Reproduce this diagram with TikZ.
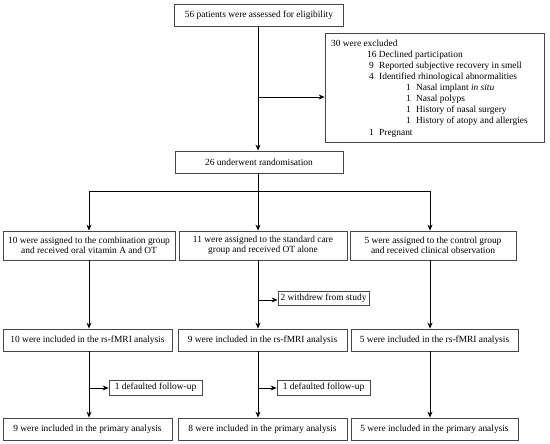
\documentclass[tikz,border=0pt]{standalone}
\usepackage{fontspec}
\setmainfont{Liberation Serif}
\usetikzlibrary{arrows.meta}
\begin{document}
\begin{tikzpicture}[x=1pt,y=-1pt,
  box/.style={draw=black!72, line width=0.8pt, inner sep=0pt, align=center,
    font=\fontsize{9.4}{9.6}\selectfont},
  txt/.style={inner sep=0pt, anchor=mid west, font=\fontsize{9.4}{9.6}\selectfont},
  arr/.style={line width=0.9pt, -{Stealth[length=6pt,width=5pt,inset=2pt]}},
  ln/.style={line width=0.9pt}]
\useasboundingbox (0,0) rectangle (550,444);
\newcommand{\nb}[1]{\makebox[10pt][l]{#1}}
% boxes
\node[box, minimum width=169pt, minimum height=22pt] (top) at (259,15) {56 patients were assessed for eligibility};
\node[box, minimum width=219pt, minimum height=109pt] (excl) at (434.5,87.5) {};
\node[txt] (e0) at (331,44.0) {30 were excluded};
\node[txt] (e1) at (367,55.1) {16 Declined participation};
\node[txt] (e2) at (369,66.2) {\nb{9}Reported subjective recovery in smell};
\node[txt] (e3) at (369,77.3) {\nb{4}Identified rhinological abnormalities};
\node[txt] (e4) at (406,88.4) {\nb{1}Nasal implant \textit{in situ}};
\node[txt] (e5) at (406,99.5) {\nb{1}Nasal polyps};
\node[txt] (e6) at (406,110.6) {\nb{1}History of nasal surgery};
\node[txt] (e7) at (406,121.7) {\nb{1}History of atopy and allergies};
\node[txt] (e8) at (369,132.8) {\nb{1}Pregnant};
\node[box, minimum width=168pt, minimum height=22pt] (rand) at (259,162) {26 underwent randomisation};
\node[box, minimum width=172pt, minimum height=29pt] (g1) at (89,245.5) {10 were assigned to the combination group\\and received oral vitamin A and OT};
\node[box, minimum width=168pt, minimum height=29pt] (g2) at (263,245.5) {11 were assigned to the standard care\\group and received OT alone};
\node[box, minimum width=166pt, minimum height=29pt] (g3) at (433,245.5) {5 were assigned to the control group\\and received clinical observation};
\node[box, minimum width=91pt, minimum height=14pt] (wd) at (323.5,298) {2 withdrew from study};
\node[box, minimum width=169pt, minimum height=22pt] (r1) at (87.5,340) {10 were included in the rs-fMRI analysis};
\node[box, minimum width=169pt, minimum height=22pt] (r2) at (262.5,340) {9 were included in the rs-fMRI analysis};
\node[box, minimum width=167pt, minimum height=22pt] (r3) at (434.5,340) {5 were included in the rs-fMRI analysis};
\node[box, minimum width=93pt, minimum height=15pt] (d1) at (155.5,387.5) {1 defaulted follow-up};
\node[box, minimum width=93pt, minimum height=15pt] (d2) at (323.5,387.5) {1 defaulted follow-up};
\node[box, minimum width=169pt, minimum height=22pt] (p1) at (87.5,429) {9 were included in the primary analysis};
\node[box, minimum width=169pt, minimum height=22pt] (p2) at (262.5,429) {8 were included in the primary analysis};
\node[box, minimum width=167pt, minimum height=22pt] (p3) at (434.5,429) {5 were included in the primary analysis};
% connectors
\coordinate (ex) at (258,97);
\coordinate (hub) at (258,191);
\coordinate (c1) at (89,191);
\coordinate (c3) at (430,191);
\coordinate (w) at (258,300);
\coordinate (f1) at (89,388);
\coordinate (f2) at (258,388);
\draw[arr] (top.south -| hub) -- (rand.north -| hub);
\draw[arr] (ex) -- (excl.west |- ex);
\draw[ln] (rand.south -| hub) -- (hub);
\draw[ln] (c1) -- (c3);
\draw[arr] (c1) -- (g1.north -| c1);
\draw[arr] (hub) -- (g2.north -| hub);
\draw[arr] (c3) -- (g3.north -| c3);
\draw[arr] (g1.south -| c1) -- (r1.north -| c1);
\draw[arr] (g2.south -| hub) -- (r2.north -| hub);
\draw[arr] (g3.south -| c3) -- (r3.north -| c3);
\draw[arr] (w) -- (wd.west |- w);
\draw[arr] (r1.south -| c1) -- (p1.north -| c1);
\draw[arr] (r2.south -| hub) -- (p2.north -| hub);
\draw[arr] (r3.south -| c3) -- (p3.north -| c3);
\draw[arr] (f1) -- (d1.west |- f1);
\draw[arr] (f2) -- (d2.west |- f2);
\end{tikzpicture}
\end{document}
